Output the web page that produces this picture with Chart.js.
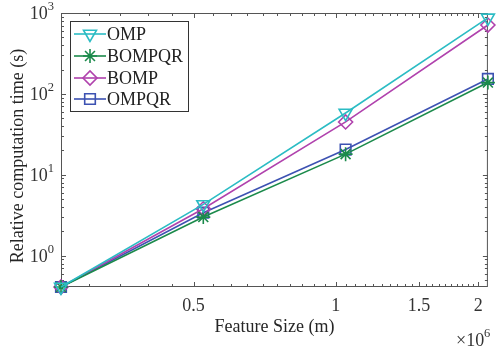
<!DOCTYPE html>
<html>
<head>
<meta charset="utf-8">
<script src="https://cdn.jsdelivr.net/npm/chart.js@4/dist/chart.umd.min.js"></script>
<style>
  body { margin: 0; background: #fff; }
  #box { width: 497px; height: 347px; }
</style>
</head>
<body>
<div id="box"><canvas id="myChart" width="497" height="347"></canvas></div>
<script>
const ctx = document.getElementById("myChart");

// feature sizes (m)
const featureSizes = [262144, 524288, 1048576, 2097152];
// relative computation time (s)
const ompTimes = [0.41, 4.3, 58, 870];
const bompqrTimes = [0.41, 3.0, 18, 138];
const bompTimes = [0.41, 3.8, 45, 710];
const ompqrTimes = [0.41, 3.4, 20.5, 153];

const seriesNames = ["OMP", "BOMPQR", "BOMP", "OMPQR"];
const xTickValues = [0.5e6, 1e6, 1.5e6, 2e6];
const xTickLabels = ["0.5", "1", "1.5", "2"];
const yTickValues = [1, 10, 100, 1000];
const yTickExponents = ["0", "1", "2", "3"];

const FONT = "'Liberation Serif', 'Times New Roman', serif";
const axisColor = "#555555";
const textColor = "#333333";

function toPoints(ys) {
  return featureSizes.map((x, i) => ({ x: x, y: ys[i] }));
}

function makeDataset(label, ys, color, style, radius, rotation) {
  return {
    label: label,
    data: toPoints(ys),
    borderColor: color,
    backgroundColor: color,
    borderWidth: 1.6,
    pointStyle: style,
    pointRadius: radius,
    pointHoverRadius: radius,
    pointRotation: rotation,
    pointBorderWidth: 1.6,
    pointBackgroundColor: "rgba(0,0,0,0)",
    pointBorderColor: color,
    clip: false,
    tension: 0
  };
}

const datasets = [
  makeDataset(seriesNames[0], ompTimes, "#2bbcc4", "triangle", 7.5, 180),
  makeDataset(seriesNames[1], bompqrTimes, "#1b8a4b", "star", 7, 0),
  makeDataset(seriesNames[2], bompTimes, "#b042ad", "rectRot", 7, 0),
  makeDataset(seriesNames[3], ompqrTimes, "#3d52b2", "rect", 7.5, 0)
];

// box, ticks, labels and legend drawn matlab-like
const matlabAxes = {
  id: "matlabAxes",
  beforeDatasetsDraw(chart) {
    const c = chart.ctx;
    const a = chart.chartArea;
    const xs = chart.scales.x;
    const ys = chart.scales.y;
    c.save();
    c.strokeStyle = axisColor;
    c.lineWidth = 1;
    c.strokeRect(a.left + 0.5, a.top + 0.5, a.right - a.left - 1, a.bottom - a.top - 1);

    c.beginPath();
    // x ticks, minor every 0.05e6
    for (let v = 0.3e6; v <= 2.0e6 + 1; v += 0.05e6) {
      const px = Math.round(xs.getPixelForValue(v)) + 0.5;
      const major = xTickValues.some(t => Math.abs(t - v) < 1);
      const len = major ? 5 : 3;
      c.moveTo(px, a.bottom);
      c.lineTo(px, a.bottom - len);
      c.moveTo(px, a.top);
      c.lineTo(px, a.top + len);
    }
    // y ticks
    for (let d = -1; d <= 2; d++) {
      for (let m = 1; m <= 9; m++) {
        const v = m * Math.pow(10, d);
        if (v < ys.min || v > ys.max) continue;
        const py = Math.round(ys.getPixelForValue(v)) + 0.5;
        const len = m === 1 ? 5 : 3;
        c.moveTo(a.left, py);
        c.lineTo(a.left + len, py);
        c.moveTo(a.right, py);
        c.lineTo(a.right - len, py);
      }
    }
    c.stroke();
    c.restore();
  },
  afterDraw(chart) {
    const c = chart.ctx;
    const a = chart.chartArea;
    const xs = chart.scales.x;
    const ys = chart.scales.y;
    c.save();
    c.fillStyle = textColor;

    // x tick labels
    c.font = "18px " + FONT;
    c.textAlign = "center";
    c.textBaseline = "alphabetic";
    xTickValues.forEach((v, i) => {
      c.fillText(xTickLabels[i], xs.getPixelForValue(v), 311);
    });

    // y tick labels 10^k
    yTickValues.forEach((v, i) => {
      const py = ys.getPixelForValue(v);
      c.font = "12.5px " + FONT;
      c.textAlign = "right";
      const ew = c.measureText(yTickExponents[i]).width;
      c.fillText(yTickExponents[i], a.left - 7, py - 3);
      c.font = "18px " + FONT;
      c.fillText("10", a.left - 7 - ew, py + 6);
    });

    // x10^6
    c.textAlign = "left";
    c.font = "18px " + FONT;
    c.fillText("\u00d710", 456, 346);
    c.font = "12.5px " + FONT;
    c.fillText("6", 484, 337);

    // axis titles
    c.font = "18px " + FONT;
    c.fillStyle = "#262626";
    c.textAlign = "center";
    c.fillText("Feature Size (m)", (a.left + a.right) / 2, 332);
    c.save();
    c.translate(23, 156);
    c.rotate(-Math.PI / 2);
    c.fillText("Relative computation time (s)", 0, 0);
    c.restore();

    // legend
    const lx = 70, ly = 21, lw = 118, lh = 90;
    c.fillStyle = "#ffffff";
    c.fillRect(lx, ly, lw, lh);
    c.strokeStyle = "#333333";
    c.lineWidth = 1;
    c.strokeRect(lx + 0.5, ly + 0.5, lw, lh);
    const rowY = [34, 56, 78, 99];
    chart.data.datasets.forEach((ds, i) => {
      const y = rowY[i];
      c.strokeStyle = ds.borderColor;
      c.lineWidth = ds.borderWidth;
      c.beginPath();
      c.moveTo(74, y);
      c.lineTo(106, y);
      c.stroke();
      c.fillStyle = "rgba(0,0,0,0)";
      c.lineWidth = ds.pointBorderWidth;
      Chart.helpers.drawPoint(c, {
        pointStyle: ds.pointStyle,
        radius: ds.pointRadius,
        rotation: ds.pointRotation,
        borderWidth: ds.pointBorderWidth
      }, 90, y);
      c.fillStyle = "#222222";
      c.font = "18px " + FONT;
      c.textAlign = "left";
      c.textBaseline = "middle";
      c.fillText(ds.label, 107, y + 1);
    });
    c.restore();
  }
};

const chart = new Chart(ctx, {
  type: "line",
  data: { datasets: datasets },
  options: {
    responsive: false,
    animation: false,
    events: [],
    layout: { padding: { left: 61, top: 13, right: 4, bottom: 60 } },
    scales: {
      x: {
        type: "logarithmic",
        display: false,
        min: featureSizes[0],
        max: featureSizes[featureSizes.length - 1]
      },
      y: {
        type: "logarithmic",
        display: false,
        min: 0.41,
        max: 1000
      }
    },
    plugins: {
      legend: { display: false },
      tooltip: { enabled: false }
    }
  },
  plugins: [matlabAxes]
});
</script>
</body>
</html>
